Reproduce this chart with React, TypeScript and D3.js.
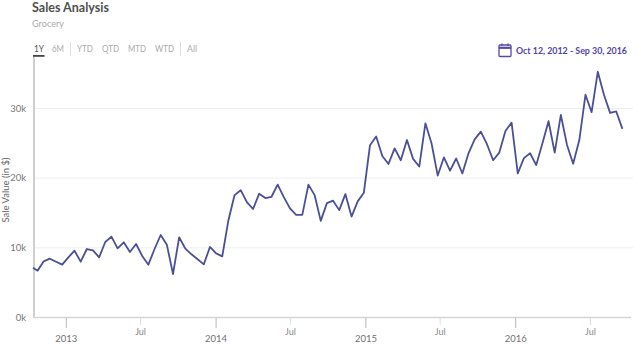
import React from "react";
import * as d3 from "d3";

const title = "Sales Analysis";
const subtitle = "Grocery";
const dateRange = "Oct 12, 2012 - Sep 30, 2016";
const yLabel = "Sale Value (in $)";
const salesK = [
  7.08, 6.65, 7.99, 8.37, 7.94, 7.51, 8.56, 9.52, 7.94, 9.76, 9.57, 8.56, 10.77, 11.53, 9.86, 10.72,
  9.33, 10.48, 8.76, 7.51, 9.76, 11.77, 10.38, 6.17, 11.44, 9.81, 9.0, 8.28, 7.56, 10.05, 9.14, 8.7,
  13.9, 17.5, 18.2, 16.5, 15.5, 17.7, 17.07, 17.26, 19.0, 17.2, 15.6, 14.66, 14.66, 19.0, 17.5, 13.8,
  16.35, 16.7, 15.34, 17.64, 14.42, 16.6, 17.84, 24.66, 25.9, 23.1, 21.97, 24.2, 22.5, 25.4, 22.7, 21.6,
  27.8, 24.9, 20.3, 22.9, 21.0, 22.75, 20.6, 23.5, 25.5, 26.6, 24.8, 22.5, 23.6, 26.7, 27.9, 20.6,
  22.8, 23.5, 21.8, 24.9, 28.1, 23.6, 29.0, 24.7, 22.0, 25.4, 31.9, 29.4, 35.2, 31.9, 29.3, 29.5, 27.0,
];
const yTicks = [0, 10, 20, 30];
const yearTicks = ["2013-01-01", "2014-01-01", "2015-01-01", "2016-01-01"];
const julyTicks = ["2013-07-01", "2014-07-01", "2015-07-01", "2016-07-01"];
const rangeButtons = ["1Y", "6M", "YTD", "QTD", "MTD", "WTD", "All"];
const buttonX = [34, 52, 77, 102, 128, 155, 187];
const buttonW = [10, 12, 16, 17, 18, 19, 10];

const FONT = "Lato, 'Noto Sans', sans-serif";
const firstDate = new Date("2012-10-12T00:00:00Z");
const secondDate = new Date("2012-10-23T00:00:00Z");
const dates = salesK.map((_, i) =>
  i === 0 ? firstDate : d3.utcDay.offset(secondDate, (i - 1) * 15)
);

export default function App() {
  const x = d3
    .scaleUtc()
    .domain([new Date("2013-01-01T00:00:00Z"), new Date("2016-01-01T00:00:00Z")])
    .range([66.3, 515.7]);
  const y = d3.scaleLinear().domain([0, 30]).range([317, 108]);
  const line = d3
    .line<number>()
    .x((_, i) => x(dates[i]))
    .y((d) => y(d));
  return (
    <svg
      width={641}
      height={353}
      style={{ position: "absolute", left: 0, top: 0, background: "#fff" }}
      fontFamily={FONT}
    >
      <text x={32} y={11.5} fontSize={13.5} fontWeight={700} fill="#505050" textLength={77} lengthAdjust="spacingAndGlyphs">{title}</text>
      <text x={32} y={27} fontSize={10} fill="#ababab" textLength={32} lengthAdjust="spacingAndGlyphs">{subtitle}</text>

      {rangeButtons.map((b, i) => (
        <text key={b} x={buttonX[i]} y={52} fontSize={9.5} fill={i === 0 ? "#555" : "#aaaaaa"} textLength={buttonW[i]} lengthAdjust="spacingAndGlyphs">{b}</text>
      ))}
      <rect x={33} y={55} width={11.5} height={1.8} fill="#444" />
      <line x1={70.5} x2={70.5} y1={42} y2={56} stroke="#ddd" />
      <line x1={180.5} x2={180.5} y1={42} y2={56} stroke="#ddd" />

      <g fill="none" stroke="#5848a8" strokeWidth={1.3}>
        <rect x={499} y={45} width={12} height={11.5} rx={1} />
        <line x1={499} x2={511} y1={47.8} y2={47.8} strokeWidth={2.2} />
        <line x1={502} x2={502} y1={43.5} y2={46} />
        <line x1={508} x2={508} y1={43.5} y2={46} />
      </g>
      <text x={516} y={54} fontSize={10} fontWeight={700} fill="#5244a6" textLength={111} lengthAdjust="spacingAndGlyphs">{dateRange}</text>

      {yTicks.slice(1).map((t) => (
        <line key={t} x1={35} x2={633} y1={y(t) + 0.5} y2={y(t) + 0.5} stroke="#eeeeee" />
      ))}
      {yTicks.map((t) => (
        <text key={t} x={26} y={y(t) + 3.5} textAnchor="end" fontSize={9.5} fill="#777">{`${t}k`}</text>
      ))}
      <text transform="translate(9 190) rotate(-90)" textAnchor="middle" fontSize={9.5} fill="#666">{yLabel}</text>

      <line x1={34} x2={34} y1={57} y2={318} stroke="#cfcfcf" strokeWidth={2} />
      <line x1={33} x2={631} y1={317.5} y2={317.5} stroke="#d5d5d5" strokeWidth={1.5} />

      {yearTicks.map((t) => {
        const px = x(new Date(t + "T00:00:00Z"));
        return (
          <g key={t}>
            <line x1={px} x2={px} y1={318} y2={328} stroke="#b5b5b5" />
            <text x={px} y={342} textAnchor="middle" fontSize={9.5} fill="#707070">{t.slice(0, 4)}</text>
          </g>
        );
      })}
      {julyTicks.map((t) => {
        const px = x(new Date(t + "T00:00:00Z"));
        return (
          <g key={t}>
            <line x1={px} x2={px} y1={318} y2={325} stroke="#dddddd" />
            <text x={px} y={335} textAnchor="middle" fontSize={9} fill="#8a8a8a">Jul</text>
          </g>
        );
      })}

      <path d={line(salesK) ?? ""} fill="none" stroke="#4b4f96" strokeWidth={1.8} strokeLinejoin="round" />
    </svg>
  );
}
